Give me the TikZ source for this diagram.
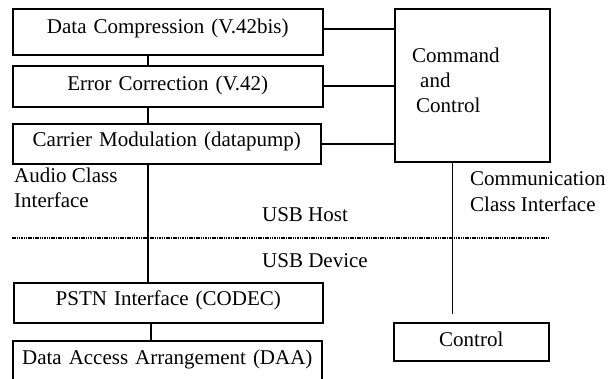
\documentclass[tikz,border=0pt]{standalone}
\usepackage{fontspec}
\setmainfont{Liberation Serif}
\begin{document}
\begin{tikzpicture}[x=1pt,y=-1pt,
  every node/.style={font=\fontsize{21pt}{25pt}\selectfont, inner sep=0pt},
  box/.style={draw, line width=1.6pt, anchor=north west, align=center},
  conn/.style={line width=1.6pt},
  thinconn/.style={line width=1pt},
  sep/.style={line width=2pt, dash pattern=on 1.5pt off 0.8pt},
  lbl/.style={anchor=base west},
  clbl/.style={anchor=base}]
\clip (0,0) rectangle (608,379);
\fill[white] (0,0) rectangle (608,379);
% boxes
\node[box, text width=310pt, text height=25pt, text depth=21pt] (dc) at (12,8) {Data Compression (V.42bis)};
\node[box, text width=310pt, text height=25pt, text depth=16pt] (ec) at (12,65) {Error Correction (V.42)};
\node[box, text width=308pt, text height=23pt, text depth=17pt] (cm) at (12,123) {Carrier Modulation (datapump)};
\node[box, minimum width=155pt, minimum height=153pt] (cc) at (394,8) {};
\node[box, text width=309pt, text height=23pt, text depth=17pt] (pstn) at (13,282) {PSTN Interface (CODEC)};
\node[box, text width=309pt, text height=24pt, text depth=36pt] (daa) at (12,340) {Data Access Arrangement (DAA)};
\node[box, text width=155pt, text height=24pt, text depth=14pt] (ctrl) at (393,322) {Control};
% texts
\node[lbl] (cc1) at (412,63) {Command};
\node[lbl] (cc2) at (420,88) {and};
\node[lbl] (cc3) at (416,113) {Control};
\node[lbl] (au1) at (14,183) {Audio Class};
\node[lbl] (au2) at (14,208) {Interface};
\node[lbl] (co1) at (470,186) {Communication};
\node[lbl] (co2) at (470,212) {Class Interface};
\node[clbl] (host) at (305,222) {USB Host};
\node[clbl] (dev) at (315,268) {USB Device};
% coordinates
\coordinate (lx) at (148,0);
\coordinate (lx2) at (151,0);
\coordinate (ccx) at (452,314);
\coordinate (dl) at (12,238);
\coordinate (dr) at (548,238);
% connectors
\draw[conn] ([yshift=3pt]dc.east) -- ([yshift=3pt]dc.east -| cc.west);
\draw[conn] (ec.east) -- (ec.east -| cc.west);
\draw[conn] (cm.east) -- (cm.east -| cc.west);
\draw[conn] ([xshift=-20pt]dc.south) -- ([xshift=-20pt]dc.south |- ec.north);
\draw[conn] (ec.south -| lx) -- (cm.north -| lx);
\draw[conn] (cm.south -| lx) -- (pstn.north -| lx);
\draw[conn] (pstn.south -| lx2) -- (daa.north -| lx2);
\draw[thinconn] (cc.south -| ccx) -- (ccx);
\draw[sep] (dl) -- (dr);
\end{tikzpicture}
\end{document}
